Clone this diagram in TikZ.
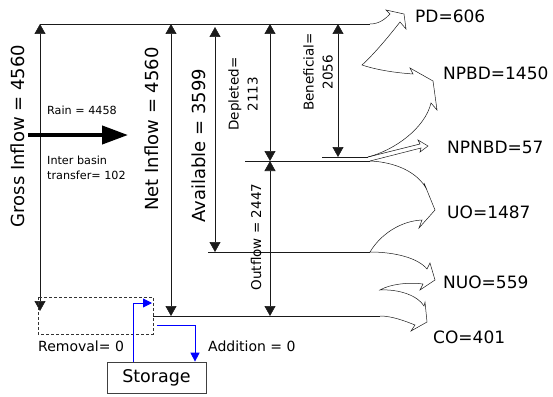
\documentclass[tikz,border=0pt]{standalone}
\usepackage{fontspec}
\setmainfont{DejaVu Sans}
\usetikzlibrary{arrows.meta,positioning,calc}
\definecolor{stor}{HTML}{0000FF}
\definecolor{lin}{HTML}{1A1A1A}
\tikzset{
  >={Triangle[length=10pt,width=11pt]},
  dim/.style={<->,draw=lin,line width=0.6pt},
  lev/.style={draw=lin,line width=0.8pt},
  flow/.style={draw=lin,line width=0.5pt,line join=miter},
  sarr/.style={->,draw=stor,line width=0.9pt,>={Triangle[length=9pt,width=9pt]}},
  biglab/.style={font=\fontsize{18}{21}\selectfont,rotate=90,inner sep=0pt},
  midlab/.style={font=\fontsize{13.5}{19}\selectfont,align=center,rotate=90,inner sep=0pt},
  smlab/.style={font=\fontsize{11.2}{14.5}\selectfont,align=left,anchor=west,inner sep=0pt},
  outlab/.style={font=\fontsize{17}{20}\selectfont,anchor=west,inner sep=0pt},
  lowlab/.style={font=\fontsize{14}{17}\selectfont,anchor=west,inner sep=0pt},
}
\begin{document}
\begin{tikzpicture}[x=1pt,y=-1pt]
\useasboundingbox (0,0) rectangle (553,396);
% levels of the account
\coordinate (gT) at (40,24);   \coordinate (gB) at (40,311);
\coordinate (nT) at (171,24);  \coordinate (nB) at (171,316);
\coordinate (aT) at (215,27);  \coordinate (aB) at (215,252);
\coordinate (dT) at (270,24);  \coordinate (dB) at (270,161);
\coordinate (oT) at (270,161); \coordinate (oB) at (270,316);
\coordinate (bT) at (338,24);  \coordinate (bB) at (338,157);
\coordinate (topE) at (370,24);
\coordinate (benL) at (322,157); \coordinate (benE) at (368,157);
\coordinate (depL) at (245,161); \coordinate (depE) at (370,161);
\coordinate (avaL) at (208,252); \coordinate (avaE) at (370,252);
\coordinate (botL) at (153,316); \coordinate (botE) at (380,316);
\draw[lev] (gT) -- (topE);
\draw[lev] (benL) -- (benE);
\draw[lev] (depL) -- (depE);
\draw[lev] (avaL) -- (avaE);
\draw[lev] (botL) -- (botE);
\draw[dim] (gB) -- (gT);
\draw[dim] (nB) -- (nT);
\draw[dim] (aB) -- (aT);
\draw[dim] (dB) -- (dT);
\draw[dim] (oB) -- (oT);
\draw[dim] (bB) -- (bT);
\node[biglab] (gross) at (18,136) {Gross Inflow = 4560};
\node[biglab] (net) at (152,129) {Net Inflow = 4560};
\node[biglab] (avail) at (199,146) {Available = 3599};
\node[midlab] (depl) at (243,94) {Depleted=\\2113};
\node[midlab] (bene) at (318,72) {Beneficial=\\2056};
\node[midlab] (outf) at (256,237) {Outflow = 2447};
% inflow
\coordinate (rainS) at (28,135); \coordinate (rainE) at (128,135);
\draw[line width=4pt,-{Triangle[length=26pt,width=18pt]}] (rainS) -- (rainE);
\node[smlab] (rain) at (47,110) {Rain = 4458};
\node[smlab] (ibt) at (47,168) {Inter basin\\transfer= 102};
% storage change
\node[draw=black!75,line width=0.7pt,minimum width=99pt,minimum height=31pt,
  font=\fontsize{17.5}{20}\selectfont] (storage) at (156.5,377.5) {Storage};
\coordinate (rmA) at (38,297); \coordinate (rmB) at (153,334);
\draw[dash pattern=on 3pt off 2pt,line width=0.6pt,black!80] (rmA) rectangle (rmB);
\coordinate (remIn) at (152,303);
\coordinate (addOut) at (157,325);
\draw[sarr] ([xshift=-23.5pt]storage.north) |- (remIn);
\draw[sarr] (addOut) -| ([xshift=38.5pt]storage.north);
\node[lowlab] (rem) at (38,346) {Removal= 0};
\node[lowlab] (add) at (208,346) {Addition = 0};
% outflows
\draw[flow] (topE) .. controls (380,24) and (386,18) .. (390,14) -- (386,10) -- (404,14) -- (406,29) -- (400,22)
  .. controls (386,40) and (372,56) .. (362,65)
  .. controls (380,71) and (400,73) .. (413,74) -- (410,68) -- (433,81) -- (437,110) -- (431,103)
  .. controls (425,128) and (395,150) .. (benE);
\draw[flow] (benE) -- (420,144) -- (418,140) -- (428,146) -- (420,152) -- (421,148) -- (depE);
\draw[flow] (depE) .. controls (395,162) and (418,172) .. (427,190) -- (424,183) -- (435,210) -- (419,228) -- (422,220)
  .. controls (400,221) and (380,235) .. (avaE)
  .. controls (395,252) and (418,258) .. (427,269) -- (430,263) -- (435,280) -- (420,290) -- (423,284)
  .. controls (410,282) and (390,284) .. (380,290)
  .. controls (400,289) and (418,296) .. (424,306) -- (425,302) -- (427,322) -- (411,331) -- (415,325)
  .. controls (405,321) and (392,316) .. (botE);
\node[outlab] (pd) at (415,16) {PD=606};
\node[outlab] (npbd) at (443,73) {NPBD=1450};
\node[outlab] (npnbd) at (447,147) {NPNBD=57};
\node[outlab] (uo) at (447,212) {UO=1487};
\node[outlab] (nuo) at (443,282) {NUO=559};
\node[outlab] (co) at (433,337) {CO=401};
\end{tikzpicture}
\end{document}
